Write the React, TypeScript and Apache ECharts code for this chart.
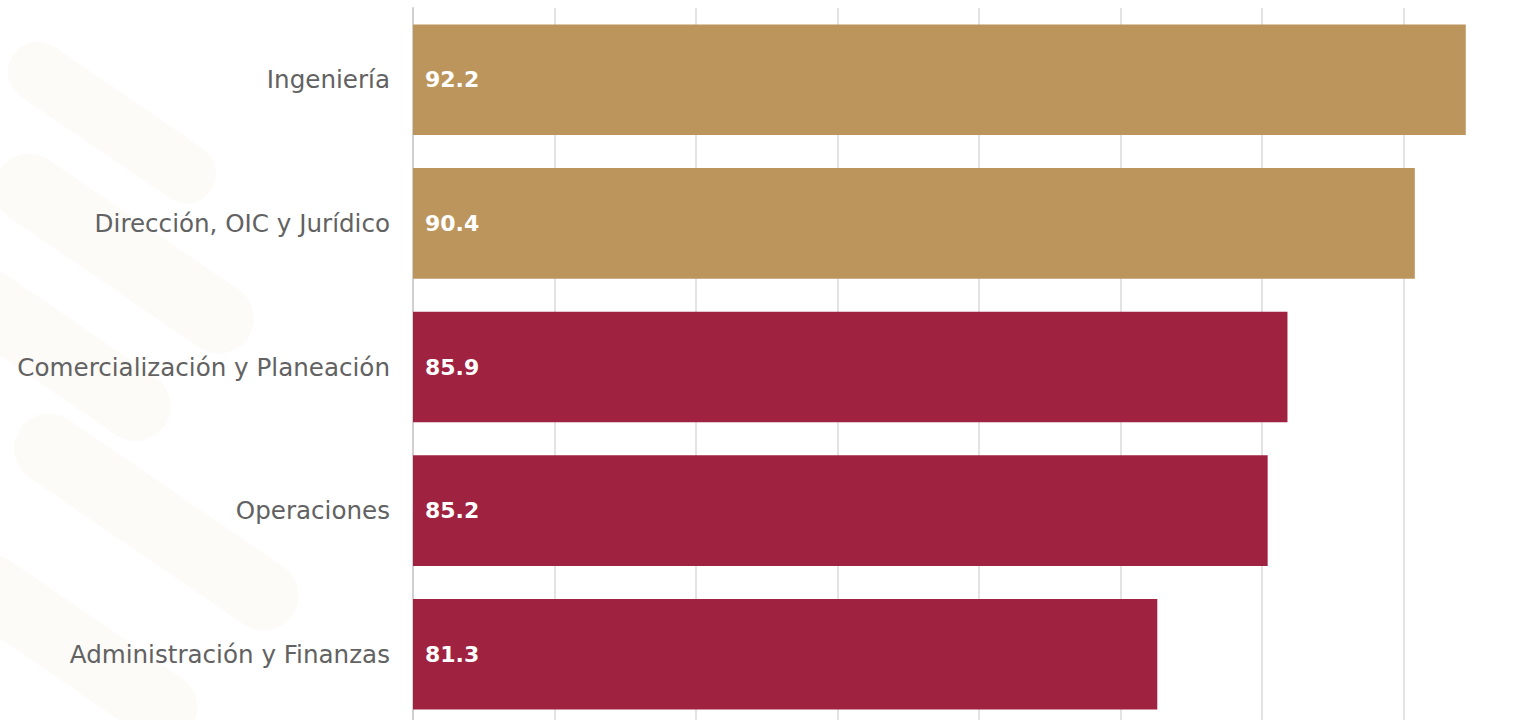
import React, { useEffect, useRef } from "react";
import * as echarts from "echarts";

const categories = [
  "Administración y Finanzas",
  "Operaciones",
  "Comercialización y Planeación",
  "Dirección, OIC y Jurídico",
  "Ingeniería",
];
const values = [81.3, 85.2, 85.9, 90.4, 92.2];
const barColors = ["#9F2241", "#9F2241", "#9F2241", "#BC955C", "#BC955C"];
const axisMin = 55;
const axisMax = 95;
const axisInterval = 5;

export default function App() {
  const ref = useRef<HTMLDivElement>(null);
  useEffect(() => {
    if (!ref.current) return;
    const chart = echarts.init(ref.current, null, { renderer: "svg" });
    const stroke = (x: number, y: number, w: number, h: number, rot: number) => ({
      type: "rect",
      x,
      y,
      rotation: rot,
      shape: { x: 0, y: 0, width: w, height: h, r: h / 2 },
      style: { fill: "#fcfbf8" },
      silent: true,
      z: -10,
    });
    chart.setOption({
      animation: false,
      backgroundColor: "#ffffff",
      graphic: [
        stroke(30, 30, 240, 60, -0.6),
        stroke(20, 140, 300, 70, -0.6),
        stroke(-30, 250, 260, 70, -0.6),
        stroke(40, 400, 330, 70, -0.6),
        stroke(-20, 540, 280, 70, -0.6),
      ],
      grid: { left: 413, right: 0, top: 8, bottom: 0, containLabel: false },
      xAxis: {
        type: "value",
        min: axisMin,
        max: axisMax,
        interval: axisInterval,
        axisLabel: { show: false },
        axisLine: { show: false },
        axisTick: { show: false },
        splitLine: { show: true, lineStyle: { color: "#dadada", width: 1.5 } },
      },
      yAxis: {
        type: "category",
        data: categories,
        axisLine: { show: true, lineStyle: { color: "#d0d0d0", width: 2 } },
        axisTick: { show: false },
        axisLabel: {
          color: "#626262",
          fontSize: 24.6,
          fontFamily: "DejaVu Sans",
          margin: 23,
        },
      },
      series: [
        {
          type: "bar",
          data: values.map((v, i) => ({ value: v, itemStyle: { color: barColors[i] } })),
          barCategoryGap: "23%",
          label: {
            show: true,
            position: "insideLeft",
            distance: 12,
            color: "#ffffff",
            fontWeight: "bold",
            fontSize: 22,
            fontFamily: "DejaVu Sans",
            formatter: (p: any) => p.value.toFixed(1),
          },
        },
      ],
    });
    return () => chart.dispose();
  }, []);
  return (
    <div
      style={{
        position: "absolute",
        left: 0,
        top: 0,
        width: 1532,
        height: 720,
        overflow: "hidden",
      }}
    >
      <div ref={ref} style={{ width: 1544.5, height: 725.5 }} />
    </div>
  );
}
